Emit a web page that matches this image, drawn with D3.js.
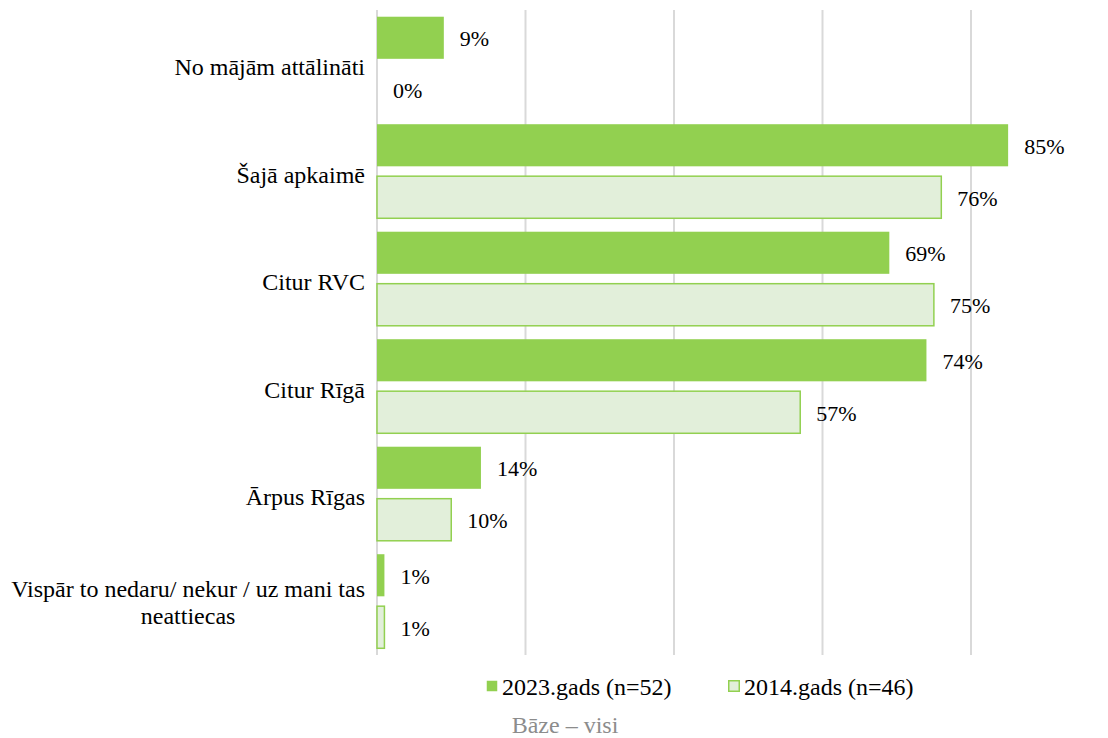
<!DOCTYPE html>
<html>
<head>
<meta charset="utf-8">
<script src="https://cdn.jsdelivr.net/npm/d3@7"></script>
<style>
  html, body { margin: 0; padding: 0; background: #fff; }
</style>
</head>
<body>
<svg id="chart" width="1108" height="738"></svg>
<script>
// Where respondents do this activity, share of respondents (%)
const categories = [
  "No mājām attālināti",
  "Šajā apkaimē",
  "Citur RVC",
  "Citur Rīgā",
  "Ārpus Rīgas",
  "Vispār to nedaru/ nekur / uz mani tas neattiecas"
];
const seriesNames = ["2023.gads (n=52)", "2014.gads (n=46)"];
const values2023 = [9, 85, 69, 74, 14, 1];
const values2014 = [0, 76, 75, 57, 10, 1];
const xTicks = [0, 20, 40, 60, 80];
const baseNote = "Bāze – visi";

const svg = d3.select("#chart");
const FONT = "Liberation Serif";
const labelSize = 24;
const valueSize = 22;
const green = "#92D050";
const paleGreen = "#E2EFDA";

const x = d3.scaleLinear().domain([0, 100]).range([377, 1119.5]);
const y0 = d3.scaleBand().domain(categories).range([10, 655])
  .paddingInner(0.125).paddingOuter(0.0625);
const y1 = d3.scaleBand().domain(seriesNames).range([0, y0.bandwidth()])
  .paddingInner(0.19).paddingOuter(0);

// vertical gridlines
svg.append("g").selectAll("line").data(xTicks).join("line")
  .attr("x1", d => x(d)).attr("x2", d => x(d))
  .attr("y1", 10).attr("y2", 655)
  .attr("stroke", "#d9d9d9").attr("stroke-width", 2);

const rows = categories.map((c, i) => ({
  cat: c,
  vals: [
    { s: seriesNames[0], v: values2023[i] },
    { s: seriesNames[1], v: values2014[i] }
  ]
}));

const groups = svg.append("g").selectAll("g").data(rows).join("g")
  .attr("transform", d => `translate(0,${y0(d.cat)})`);

groups.selectAll("rect").data(d => d.vals.filter(e => e.v > 0)).join("rect")
  .attr("x", x(0))
  .attr("y", d => y1(d.s))
  .attr("width", d => x(d.v) - x(0))
  .attr("height", y1.bandwidth())
  .attr("fill", d => d.s === seriesNames[0] ? green : paleGreen)
  .attr("stroke", d => d.s === seriesNames[0] ? "none" : green)
  .attr("stroke-width", 1.5);

groups.selectAll("text").data(d => d.vals).join("text")
  .attr("x", d => x(d.v) + 16)
  .attr("y", d => y1(d.s) + y1.bandwidth() / 2 + 1)
  .attr("dy", "0.35em")
  .style("font-family", FONT)
  .attr("font-size", valueSize)
  .attr("fill", "#000")
  .text(d => d.v + "%");

// category labels, right-aligned; long label wraps onto two centred lines
const labelRight = 365;
categories.forEach(c => {
  const cy = y0(c) + y0.bandwidth() / 2;
  if (c.startsWith("Vispār")) {
    const lines = ["Vispār to nedaru/ nekur / uz mani tas", "neattiecas"];
    const t1 = svg.append("text").style("font-family", FONT)
      .attr("font-size", labelSize).text(lines[0]);
    const w = t1.node().getComputedTextLength();
    const cx = labelRight - w / 2;
    t1.attr("x", cx).attr("text-anchor", "middle")
      .attr("y", cy - 13).attr("dy", "0.35em");
    svg.append("text").style("font-family", FONT)
      .attr("font-size", labelSize).text(lines[1])
      .attr("x", cx).attr("text-anchor", "middle")
      .attr("y", cy + 14).attr("dy", "0.35em");
  } else {
    svg.append("text").style("font-family", FONT).attr("font-size", labelSize)
      .attr("x", labelRight).attr("y", cy + 3).attr("dy", "0.35em")
      .attr("text-anchor", "end").text(c);
  }
});

// legend
const legendItems = [
  { name: seriesNames[0], x: 486, fill: green, stroke: "none" },
  { name: seriesNames[1], x: 728, fill: paleGreen, stroke: green }
];
const lg = svg.append("g").selectAll("g").data(legendItems).join("g");
lg.append("rect")
  .attr("x", d => d.x + 0.75).attr("y", 680.75)
  .attr("width", 10.5).attr("height", 10.5)
  .attr("fill", d => d.fill).attr("stroke", d => d.stroke).attr("stroke-width", 1.5);
lg.append("text")
  .attr("x", d => d.x + 16).attr("y", 687).attr("dy", "0.35em")
  .style("font-family", FONT)
  .attr("font-size", labelSize).text(d => d.name);

svg.append("text")
  .attr("x", 565).attr("y", 725).attr("dy", "0.35em")
  .attr("text-anchor", "middle")
  .style("font-family", FONT).attr("font-size", labelSize)
  .attr("fill", "#8c8c8c").text(baseNote);
</script>
</body>
</html>
